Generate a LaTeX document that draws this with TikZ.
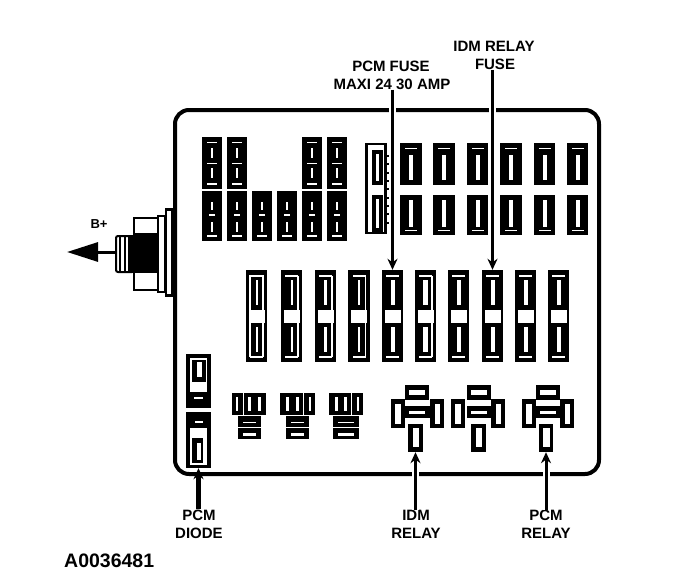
\documentclass[tikz,border=0pt]{standalone}
\usepackage{fontspec}
\setmainfont{Liberation Sans}
\usetikzlibrary{arrows.meta}
\tikzset{
  x=1pt, y=-1pt,
  outline/.style={draw, line width=4pt, rounded corners=14pt},
  blockfuse/.style={fill=black, draw=none, inner sep=0pt, minimum width=20pt, minimum height=#1},
  bigfuse/.style={fill=black, draw=none, inner sep=0pt, minimum width=21.5pt, minimum height=92pt},
  slot/.style={fill=white, draw=none},
  framefuse/.style={draw, line width=2.5pt, fill=white},
  tag/.style={font=\bfseries\fontsize{15}{18}\selectfont, align=center, inner sep=0pt},
  pointer/.style={draw, line width=3pt, -{Stealth[length=11pt,width=10pt]}},
  halo/.style={preaction={draw=white, line width=7pt, -}},
}
\begin{document}
\begin{tikzpicture}
  \useasboundingbox (0,0) rectangle (688,586);

  % box
  \draw[outline] (175,110) rectangle (599,474);

  % terminal
  \node[fill=black, minimum width=8pt, minimum height=89pt, inner sep=0pt] (washer) at (169,252.5) {};
  \node[fill=white, minimum width=4pt, minimum height=83pt, inner sep=0pt] (washerin) at (169,252.5) {};
  \draw[line width=2pt, fill=white] (134,218) rectangle (158,290);
  \fill (133,233) rectangle (158,273);
  \draw[line width=2pt, fill=white] (158,216) rectangle (165,292);
  \draw[line width=2pt, fill=white, rounded corners=2pt] (116,236) rectangle (134,272);
  \fill (119,236) rectangle (120.5,272);
  \fill (124,236) rectangle (125.5,272);
  \fill (128,236) rectangle (134,272);
  \node[inner sep=0pt, minimum size=0pt] (stud) at (116,252) {};
  \coordinate (tipBplus) at (67,252);
  \draw[line width=3pt, -{Triangle[length=31pt,width=19pt]}] (stud) -- (tipBplus);
  \node[tag, font=\bfseries\fontsize{13}{14}\selectfont] (bplus) at (99,224) {B+};

  % small fuses, upper row
  \foreach \fx/\fname in {212/a, 237/b, 312/e, 337/f} {
    \node[blockfuse=52pt] (up\fname) at (\fx,163) {};
    \fill[slot] (\fx-5,141.5) rectangle (\fx+5,143);
    \fill[slot] (\fx-1,148) rectangle (\fx+1,158);
    \fill[slot] (\fx-5,162.5) rectangle (\fx+5,164);
    \fill[slot] (\fx-1,168) rectangle (\fx+1,178);
    \fill[slot] (\fx-5,183) rectangle (\fx+5,184.5);
  }
  % small fuses, lower row
  \foreach \fx/\fname in {212/a, 237/b, 262/c, 287/d, 312/e, 337/f} {
    \node[blockfuse=50pt] (lo\fname) at (\fx,216) {};
    \fill[slot] (\fx-1,202) rectangle (\fx+1,210);
    \fill[slot] (\fx-3,214) rectangle (\fx+3,215.5);
    \fill[slot] (\fx-1,222) rectangle (\fx+1,232);
    \fill[slot] (\fx-5,235) rectangle (\fx+5,237);
  }

  % framed fuse
  \node[framefuse, minimum width=19pt, minimum height=89pt, inner sep=0pt] (top0) at (376,188.5) {};
  \fill (371.5,150) rectangle (382.5,185);
  \fill (371.5,195) rectangle (382.5,232);
  \fill[slot] (375.5,154) rectangle (379,181);
  \fill[slot] (375.5,199) rectangle (379,228);
  \foreach \ty in {155,163,172,180,188,197,205,213,222} {
    \fill (387,\ty) rectangle (390,\ty+1.5);
  }

  % upper row of fuses
  \foreach \fx [count=\fnum] in {411,444,477.5,511,544.5,577.5} {
    \node[bigfuse] (top\fnum) at (\fx,188.5) {};
    \fill[slot] (\fx-6,147.5) rectangle (\fx+6,149);
    \fill[slot] (\fx-10.75,185) rectangle (\fx+10.75,195);
    \fill[slot] (\fx-2,155) rectangle (\fx+2,180);
    \fill[slot] (\fx-2,200) rectangle (\fx+2,227);
    \fill[slot] (\fx-6,229.5) rectangle (\fx+6,231);
  }

  % middle row of fuses
  \foreach \fx/\fw [count=\fnum] in {256.5/1, 291.5/1, 325.5/1.5, 359/1, 392.5/2, 425.5/2.5, 458.5/2, 492.5/2, 525.5/2, 558.5/2} {
    \node[bigfuse] (mid\fnum) at (\fx,316) {};
    \fill[slot] (\fx-6.5,275) rectangle (\fx+6.5,276.5);
    \fill[slot] (\fx-6.5,356) rectangle (\fx+6.5,357.5);
    \fill[slot] (\fx-8,310) rectangle (\fx+8,323);
    \fill[slot] (\fx-\fw,280) rectangle (\fx+\fw,305);
    \fill[slot] (\fx-\fw,327) rectangle (\fx+\fw,352);
  }
  % white rims
  \draw[white, line width=1.2pt] ([xshift=-6.5pt,yshift=-40.5pt]mid1.center) rectangle ([xshift=6.5pt,yshift=40.5pt]mid1.center);
  \foreach \fn in {mid2, mid3, mid4, mid6} {
    \draw[white, line width=1.2pt] ([xshift=6.5pt,yshift=-40.5pt]\fn.center) -- ([xshift=6.5pt,yshift=40.5pt]\fn.center);
  }

  % diode fuses
  \node[fill=black, minimum width=25pt, minimum height=54pt, inner sep=0pt] (diodeup) at (198.5,381) {};
  \fill[slot] (190,358) rectangle (207,392);
  \fill (191.5,360) rectangle (205.5,381.5);
  \fill[slot] (196.5,362) rectangle (201.5,377);
  \fill[slot] (194,396.5) rectangle (203,399);
  \node[fill=black, minimum width=25pt, minimum height=56pt, inner sep=0pt] (diodelo) at (198.5,440) {};
  \fill[slot] (195,420.5) rectangle (203,423);
  \fill[slot] (190,428) rectangle (207,465);
  \fill (192,438) rectangle (203,463);
  \fill[slot] (196.5,443) rectangle (200.5,460);

  % small relays
  \foreach \rx/\rw in {232/11, 244/22, 280/23, 304/11, 329/22, 352/11} {
    \fill (\rx,393) rectangle ++(\rw,22);
  }
  \foreach \rs in {235.5, 248, 258, 286, 296, 308.5, 335, 344, 356.5} {
    \fill[slot] (\rs,397) rectangle ++(2.5,14);
  }
  \foreach \rx/\rw in {238/23, 286/23, 333/26} {
    \fill (\rx,416) rectangle ++(\rw,11);
    \fill (\rx,428) rectangle ++(\rw,11);
    \fill[slot] (\rx+5,421.5) rectangle ++(\rw-10,1.5);
    \fill[slot] (\rx+5,433) rectangle ++(\rw-10,2.5);
  }

  % relays
  \fill (404,406) rectangle (431,418);
  \foreach \rx/\rl/\rr/\rb/\rname in {416.5/391/430/415.5/idm, 478.5/451/491/478.5/mid, 547.5/522/560/546/pcm} {
    \fill (\rx-12,385) rectangle (\rx+12,400);
    \fill[slot] (\rx-8,390) rectangle (\rx+8,395);
    \fill (\rx-12,406) rectangle (\rx+12,418);
    \fill[slot] (\rx-8,411) rectangle (\rx+8,413.5);
    \fill (\rl,399) rectangle ++(14,29);
    \fill[slot] (\rl+4,403.5) rectangle ++(6,20);
    \fill (\rr,399) rectangle ++(14,29);
    \fill[slot] (\rr+5,403.5) rectangle ++(5,20);
    \node[fill=black, minimum width=14.5pt, minimum height=28pt, inner sep=0pt] (relay\rname) at (\rb,438) {};
    \fill[slot] (\rb-3,428) rectangle (\rb+3.5,447);
  }

  % labels
  \node[tag] (fusepcm) at (391,66) {PCM FUSE};
  \node[tag] (fusemaxi) at (392,84) {MAXI 24 30 AMP};
  \node[tag] (idmfuse) at (494,46) {IDM RELAY};
  \node[tag] (fusename) at (495,64) {FUSE};
  \node[tag] (diodelabel) at (199,524) {PCM\\DIODE};
  \node[tag] (idmlabel) at (416,524) {IDM\\RELAY};
  \node[tag] (pcmlabel) at (546,524) {PCM\\RELAY};
  \node[tag, anchor=west, font=\bfseries\fontsize{19.5}{20}\selectfont] (partno) at (64,561) {A0036481};

  % pointers
  \draw[pointer, halo] (fusemaxi.south -| mid5.north) -- (mid5.north);
  \draw[pointer, halo] (fusename.south -| mid8.north) -- (mid8.north);
  \draw[pointer, line width=5pt] (diodelabel.north -| diodelo.south) -- (diodelo.south);
  \draw[pointer, halo] (idmlabel.north -| relayidm.south) -- (relayidm.south);
  \draw[pointer, halo] (pcmlabel.north -| relaypcm.south) -- (relaypcm.south);
\end{tikzpicture}
\end{document}
